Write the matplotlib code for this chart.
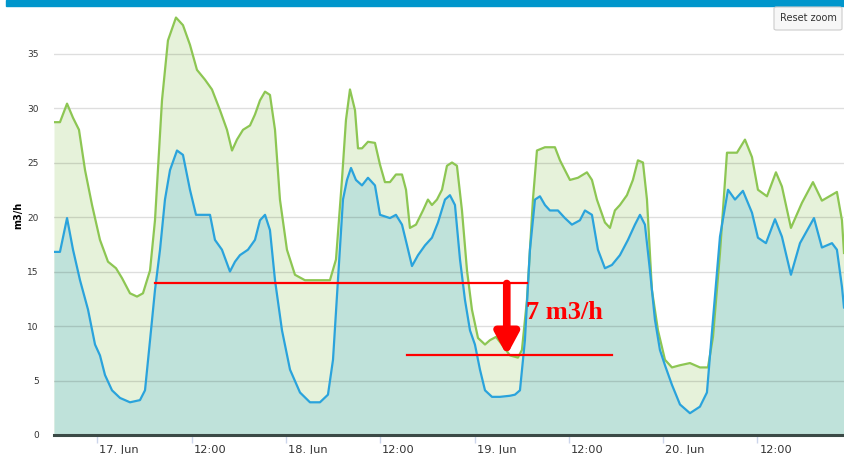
import numpy as np
import matplotlib
matplotlib.use("Agg")
import matplotlib.pyplot as plt
import matplotlib.transforms as mtransforms
from matplotlib.patches import Rectangle, FancyBboxPatch

# hours counted from 17 Jun 00:00
hours_max = [-5.51, -4.75, -3.85, -3.09, -2.33, -1.56, -0.67, 0.34, 1.36, 2.38, 3.14, 4.16,
             5.05, 5.81, 6.71, 7.34, 8.23, 8.99, 10.01, 10.90, 11.79, 12.68, 13.70, 14.59,
             15.61, 16.50, 17.14, 17.77, 18.54, 19.43, 20.06, 20.70, 21.34, 21.97, 22.61,
             23.24, 24.13, 25.15, 26.42, 28.08, 29.60, 30.37, 31.13, 31.64, 32.15, 32.79,
             33.17, 33.68, 34.44, 35.33, 35.97, 36.60, 37.24, 38.00, 38.77, 39.28, 39.78,
             40.55, 41.44, 42.07, 42.58, 43.22, 43.86, 44.49, 45.13, 45.76, 46.40, 47.04,
             47.67, 48.44, 49.33, 49.96, 50.73, 51.49, 52.51, 53.52, 54.03, 54.67, 55.43,
             55.94, 56.96, 58.23, 58.87, 59.50, 60.14, 61.16, 62.30, 62.94, 63.57, 64.59,
             65.23, 65.86, 66.50, 67.39, 68.15, 68.79, 69.43, 69.94, 70.57, 71.34, 72.23,
             73.12, 74.14, 75.41, 76.68, 77.70, 78.34, 79.23, 80.12, 81.39, 82.41, 83.30,
             84.06, 85.21, 86.35, 87.11, 88.26, 89.66, 91.06, 92.20, 94.11, 94.75, 95.01]
flow_max = [28.7, 28.7, 30.4, 29.1, 28.0, 24.3, 21.1, 17.9, 15.9, 15.3, 14.4, 13.0,
            12.7, 13.0, 15.1, 19.7, 30.7, 36.2, 38.3, 37.6, 35.8, 33.5, 32.6, 31.7,
            29.8, 28.0, 26.1, 27.1, 28.0, 28.4, 29.4, 30.7, 31.5, 31.2, 28.0,
            21.6, 17.0, 14.7, 14.2, 14.2, 14.2, 16.1, 23.4, 28.9, 31.7, 29.8,
            26.3, 26.3, 26.9, 26.8, 24.8, 23.2, 23.2, 23.9, 23.9, 22.5, 19.0,
            19.3, 20.6, 21.6, 21.1, 21.6, 22.5, 24.7, 25.0, 24.7, 20.6, 15.1,
            11.5, 8.9, 8.3, 8.7, 9.0, 8.3, 7.3, 7.1, 7.8, 12.4, 21.6,
            26.1, 26.4, 26.4, 25.2, 24.3, 23.4, 23.6, 24.1, 23.4, 21.6, 19.5,
            19.0, 20.6, 21.1, 22.0, 23.4, 25.2, 25.0, 21.6, 13.3, 9.6, 6.9,
            6.2, 6.4, 6.6, 6.2, 6.2, 9.0, 16.7, 25.9, 25.9, 27.1, 25.5,
            22.5, 21.9, 24.1, 22.8, 19.0, 21.3, 23.2, 21.5, 22.3, 19.7, 16.7]

hours_min = [-5.51, -4.75, -3.85, -3.09, -2.20, -1.18, -0.29, 0.34, 0.98, 1.87, 2.89, 4.16,
             5.43, 6.07, 6.71, 7.34, 7.98, 8.61, 9.25, 10.14, 10.90, 11.79, 12.56, 13.45,
             14.34, 14.97, 15.86, 16.88, 17.52, 18.15, 19.17, 20.06, 20.70, 21.34, 21.97,
             22.61, 23.50, 24.52, 25.79, 27.06, 28.33, 29.35, 29.99, 30.62, 31.26, 31.77,
             32.28, 32.91, 33.68, 34.44, 35.33, 35.97, 37.24, 38.00, 38.77, 39.41, 40.04,
             40.81, 41.70, 42.58, 43.35, 44.24, 44.87, 45.51, 46.15, 46.78, 47.42, 48.05,
             48.69, 49.33, 50.22, 51.23, 52.51, 53.14, 53.78, 54.41, 55.05, 55.69, 56.32,
             56.96, 57.59, 58.61, 59.50, 60.39, 61.41, 62.05, 62.94, 63.70, 64.59, 65.48,
             66.50, 67.52, 68.41, 69.05, 69.68, 70.32, 70.95, 71.59, 72.23, 73.12, 74.14,
             75.41, 76.68, 77.57, 78.34, 79.23, 80.25, 81.14, 82.15, 83.30, 84.06, 85.08,
             86.23, 87.11, 88.26, 89.41, 91.19, 92.20, 93.48, 94.11, 94.75, 95.01]
flow_min = [16.8, 16.8, 19.9, 17.0, 14.2, 11.5, 8.3, 7.3, 5.5, 4.1, 3.4, 3.0,
            3.2, 4.1, 8.7, 13.3, 17.0, 21.6, 24.3, 26.1, 25.7, 22.5, 20.2, 20.2,
            20.2, 17.9, 17.0, 15.0, 15.9, 16.5, 17.0, 17.9, 19.7, 20.2, 18.8,
            14.2, 9.6, 6.0, 3.9, 3.0, 3.0, 3.7, 6.9, 14.2, 21.6, 23.4,
            24.5, 23.4, 22.9, 23.6, 22.9, 20.2, 19.9, 20.2, 19.3, 17.4, 15.5,
            16.5, 17.4, 18.1, 19.5, 21.6, 22.0, 21.1, 16.1, 12.4, 9.6, 8.3,
            6.0, 4.1, 3.5, 3.5, 3.6, 3.7, 4.1, 8.7, 17.0, 21.6, 21.9,
            21.1, 20.6, 20.6, 19.9, 19.3, 19.7, 20.6, 20.2, 17.0, 15.3, 15.6,
            16.5, 17.9, 19.3, 20.2, 19.3, 15.1, 10.6, 7.8, 6.4, 4.6, 2.8,
            2.0, 2.6, 3.9, 10.6, 18.2, 22.5, 21.6, 22.4, 20.4, 18.1, 17.6,
            19.8, 18.2, 14.7, 17.6, 19.9, 17.2, 17.6, 17.0, 13.6, 11.7]

tick_hours = [0, 12, 24, 36, 48, 60, 72, 84]
tick_labels = ["17. Jun", "12:00", "18. Jun", "12:00", "19. Jun", "12:00", "20. Jun", "12:00"]
ytick_vals = [0, 5, 10, 15, 20, 25, 30, 35]

# red annotation (levels in m3/h)
high_level = 13.9
low_level = 7.3

W, H = 844, 454
fig = plt.figure(figsize=(W / 100, H / 100), dpi=100)
ax = fig.add_axes([54 / W, 19 / H, 1 - 54 / W, (435 - 11) / H])

ax.fill_between(hours_max, 0, flow_max, color="#e6f2da", lw=0, zorder=1)
ax.fill_between(hours_min, 0, flow_min, color="#bfe2da", lw=0, zorder=2)
for v in ytick_vals[1:]:
    ax.axhline(v, color=(0, 0, 0, 0.13), lw=1, zorder=3)
ax.plot(hours_max, flow_max, color="#8dc653", lw=1.6, zorder=4, solid_joinstyle="round")
ax.plot(hours_min, flow_min, color="#2aa3dc", lw=1.6, zorder=5, solid_joinstyle="round")

ax.set_xlim(-5.51, 95.01)
ax.set_ylim(0, 38.9)

for s in ["top", "right", "left"]:
    ax.spines[s].set_visible(False)
ax.spines["bottom"].set_color("#3b4a46")
ax.spines["bottom"].set_linewidth(2.2)
ax.spines["bottom"].set_zorder(6)

ax.set_xticks(tick_hours)
ax.set_xticklabels(tick_labels, fontsize=8.2, color="#333333", ha="left")
ax.tick_params(axis="x", length=6, width=1, color="#ccd6eb", pad=1)
offset = mtransforms.ScaledTranslation(2 / 100, 0, fig.dpi_scale_trans)
for lab in ax.get_xticklabels():
    lab.set_transform(lab.get_transform() + offset)

ax.set_yticks(ytick_vals)
ax.set_yticklabels([str(v) for v in ytick_vals], fontsize=6.5, color="#333333")
ax.tick_params(axis="y", length=0, pad=11)
fig.text(18 / W, 1 - 215 / H, "m3/h", fontsize=7, fontweight="bold", rotation=90,
         ha="center", va="center")

# annotation
ax.plot([7.34, 54.67], [high_level, high_level], color="red", lw=1.6, zorder=7)
ax.plot([39.4, 65.5], [low_level, low_level], color="red", lw=1.6, zorder=7)
ax.annotate("", xy=(52.1, low_level), xytext=(52.1, high_level),
            arrowprops=dict(arrowstyle="-|>,head_width=0.7,head_length=1.3",
                            color="red", lw=5.5, shrinkA=0, shrinkB=0), zorder=8)
ax.text(54.6, (high_level + low_level) / 2 + 0.6, "7 m3/h", color="red", fontsize=19,
        fontweight="bold", family="Liberation Serif", va="center", ha="left", zorder=8)

# top bar and reset button
fig.patches.append(Rectangle((6 / W, 1 - 6 / H), 1, 6 / H, transform=fig.transFigure,
                             color="#0096cc", zorder=10))
fig.patches.append(FancyBboxPatch((774 / W, 1 - 30 / H), 68 / W, 23 / H,
                                  boxstyle="round,pad=0,rounding_size=0.003",
                                  transform=fig.transFigure, facecolor="#f7f7f7",
                                  edgecolor="#cccccc", lw=0.8, zorder=10))
fig.text(808 / W, 1 - 18 / H, "Reset zoom", fontsize=7, color="#333333",
         ha="center", va="center", zorder=11)

fig.savefig("out.png", dpi=100)
